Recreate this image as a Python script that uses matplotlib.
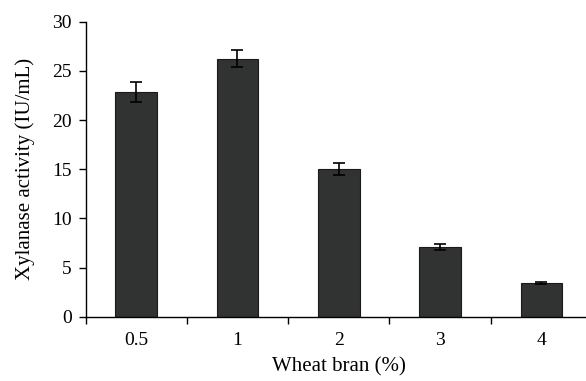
import matplotlib
matplotlib.use("Agg")
import matplotlib.pyplot as plt
import numpy as np

categories = ["0.5", "1", "2", "3", "4"]
values = [22.85, 26.25, 15.0, 7.05, 3.45]
errors = [1.05, 0.85, 0.6, 0.3, 0.12]

plt.rcParams['font.family'] = ['Liberation Serif', 'DejaVu Serif']

fig = plt.figure(figsize=(5.86, 3.81), dpi=100)
ax = fig.add_axes([85.5/586, 1-316.7/381, (592-85.5)/586, (316.7-21.7)/381])

x = np.arange(len(categories))
ax.bar(x, values, width=0.41, color='#313332', edgecolor='#1a1a1a', linewidth=0.8, zorder=2)
ax.errorbar(x, values, yerr=errors, fmt='none', ecolor='black', elinewidth=1.2,
            capsize=4.5, capthick=1.2, zorder=3)

ax.set_xlim(-0.5, len(categories) - 0.5)
ax.set_ylim(0, 30)
ax.set_yticks([0, 5, 10, 15, 20, 25, 30])
ax.set_xticks(np.arange(-0.5, len(categories), 1.0))
ax.set_xticklabels([])
ax.set_xticks(x, minor=True)
ax.set_xticklabels(categories, minor=True)
ax.tick_params(axis='x', which='major', direction='out', length=5, width=1, pad=4)
ax.tick_params(axis='x', which='minor', length=0, pad=11, labelsize=14)
ax.tick_params(axis='y', direction='out', length=5, width=1, labelsize=14, pad=5)

for s in ['top', 'right']:
    ax.spines[s].set_visible(False)
for s in ['left', 'bottom']:
    ax.spines[s].set_linewidth(1.0)

ax.set_xlabel("Wheat bran (%)", fontsize=15, labelpad=6)
ax.set_ylabel("Xylanase activity (IU/mL)", fontsize=15, labelpad=12)

fig.savefig("out.png", dpi=100)
